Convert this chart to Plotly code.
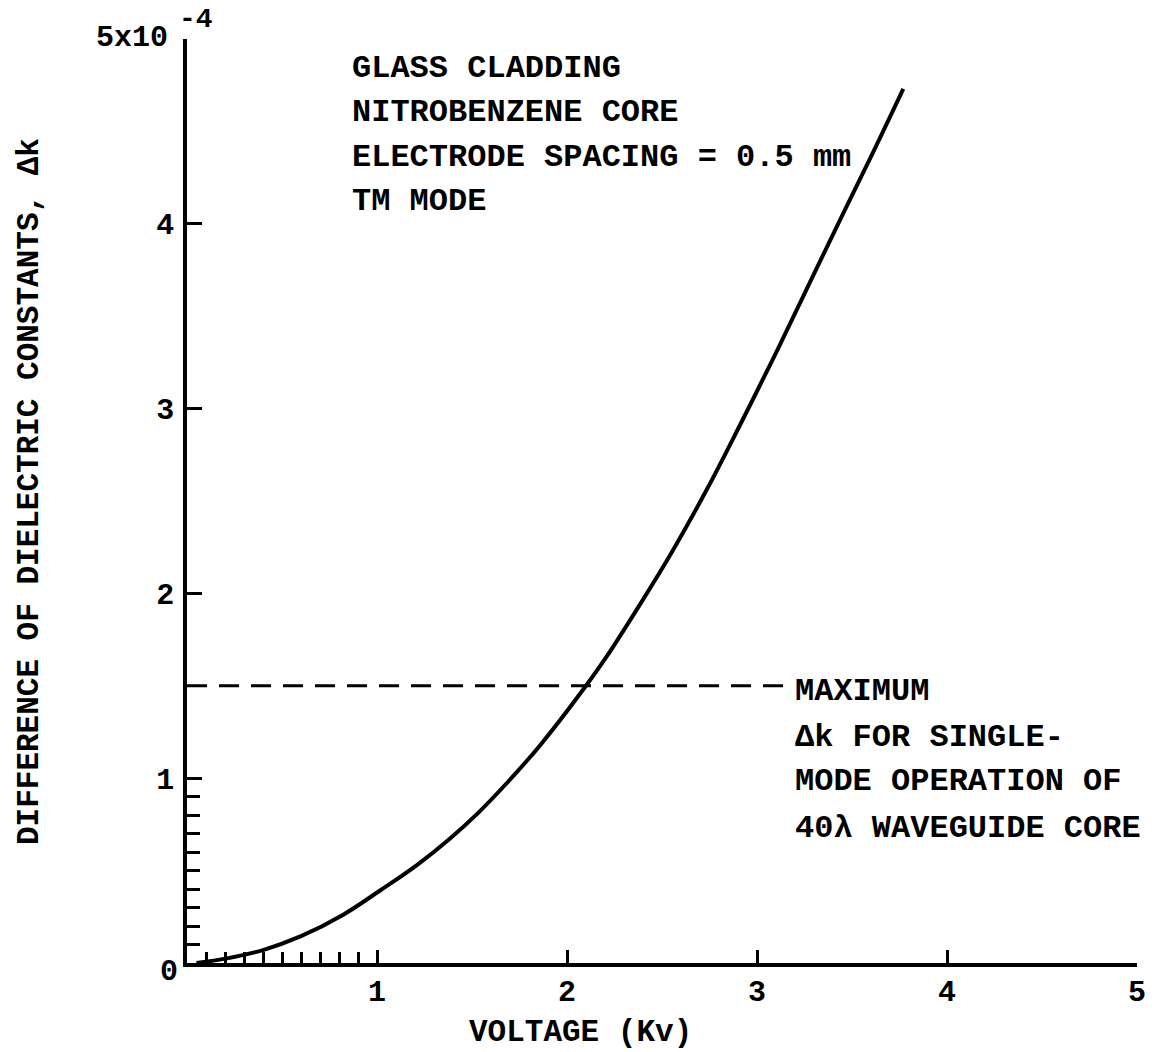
import plotly.graph_objects as go

# ---- data (voltage in kV, delta-k in units of 1e-4) ----
voltage_kv = [0.05, 0.21, 0.40, 0.60, 0.82, 1.02, 1.21, 1.38, 1.53, 1.68, 1.86, 2.10,
              2.21, 2.39, 2.55, 2.74, 2.91, 3.08, 3.24, 3.38, 3.56, 3.65, 3.77]
delta_k = [0.0, 0.025, 0.07, 0.145, 0.26, 0.395, 0.53, 0.67, 0.81, 0.97, 1.18, 1.50,
           1.66, 1.95, 2.22, 2.57, 2.91, 3.26, 3.60, 3.90, 4.28, 4.47, 4.73]

max_dk_level = 1.5          # maximum delta-k for single-mode operation
max_dk_x = [0.0, 3.2]       # extent of the dashed reference line

x_tickvals = [1, 2, 3, 4, 5]
x_ticktext = ["1", "2", "3", "4", "5"]
x_minor = [0.1, 0.2, 0.3, 0.4, 0.5, 0.6, 0.7, 0.8, 0.9]
y_tickvals = [1, 2, 3, 4, 5]
y_ticktext = ["1", "2", "3", "4", ""]
y_minor = [0.1, 0.2, 0.3, 0.4, 0.5, 0.6, 0.7, 0.8, 0.9]

info_lines = ["GLASS CLADDING", "NITROBENZENE CORE",
              "ELECTRODE SPACING = 0.5 mm", "TM MODE"]
max_lines = ["MAXIMUM", "\u0394k FOR SINGLE-", "MODE OPERATION OF",
             "40\u03bb WAVEGUIDE CORE"]

FONT = "Liberation Mono"
fnt = dict(family=FONT, size=30, color="black", weight="bold")
fnt_big = dict(family=FONT, size=32, color="black", weight="bold")
fnt_title = dict(family=FONT, size=31, color="black", weight="bold")

fig = go.Figure()
fig.add_trace(go.Scatter(x=max_dk_x, y=[max_dk_level] * len(max_dk_x), mode="lines",
                         line=dict(color="black", width=3, dash="20px,12px"),
                         hoverinfo="skip"))
fig.add_trace(go.Scatter(x=voltage_kv, y=delta_k, mode="lines",
                         line=dict(color="black", width=4, shape="spline", smoothing=1.0),
                         cliponaxis=False))

axis_common = dict(showgrid=False, zeroline=False, showline=True, linecolor="black",
                   linewidth=3.5, ticks="inside", tickcolor="black", tickwidth=3,
                   tickfont=fnt, range=[0, 5], fixedrange=True)

fig.update_xaxes(**axis_common, tickvals=x_tickvals, ticktext=x_ticktext, ticklen=13,
                 ticklabelstandoff=-2,
                 minor=dict(tickmode="array", tickvals=x_minor, ticks="inside",
                            ticklen=11, tickwidth=2.5, tickcolor="black"))
fig.update_yaxes(**axis_common, tickvals=y_tickvals, ticktext=y_ticktext, ticklen=15,
                 ticklabelstandoff=3,
                 minor=dict(tickmode="array", tickvals=y_minor, ticks="inside",
                            ticklen=13, tickwidth=2.5, tickcolor="black"))

annotations = []
# corner zero label
annotations.append(dict(x=-0.0074, y=-0.0097, xref="paper", yref="paper", text="0",
                        showarrow=False, font=fnt, xanchor="right", yanchor="middle"))
# top y label 5x10^-4
annotations.append(dict(x=-0.018, y=1.001, xref="paper", yref="paper", text="5x10",
                        showarrow=False, font=fnt, xanchor="right", yanchor="middle"))
annotations.append(dict(x=-0.0105, y=1.021, xref="paper", yref="paper", text="-4",
                        showarrow=False,
                        font=dict(family=FONT, size=28, color="black", weight="bold"),
                        xanchor="left", yanchor="middle"))
# info block
info_y = [4.84, 4.60, 4.36, 4.12]
for t, yy in zip(info_lines, info_y):
    annotations.append(dict(x=0.86, y=yy, xref="x", yref="y", text=t, showarrow=False,
                            font=fnt_big, xanchor="left", yanchor="middle"))
# maximum block
max_y = [1.47, 1.22, 0.98, 0.73]
for t, yy in zip(max_lines, max_y):
    annotations.append(dict(x=3.19, y=yy, xref="x", yref="y", text=t, showarrow=False,
                            font=fnt_big, xanchor="left", yanchor="middle"))
# axis titles
annotations.append(dict(x=0.4147, y=-0.0747, xref="paper", yref="paper",
                        text="VOLTAGE (Kv)", showarrow=False, font=fnt_title,
                        xanchor="center", yanchor="middle"))
annotations.append(dict(x=-0.165, y=0.51, xref="paper", yref="paper",
                        text="DIFFERENCE OF DIELECTRIC CONSTANTS, \u0394k",
                        showarrow=False, font=fnt_title, textangle=-90,
                        xanchor="center", yanchor="middle"))

fig.update_layout(width=1160, height=1052, margin=dict(l=187, r=23, t=39, b=89),
                  plot_bgcolor="white", paper_bgcolor="white", showlegend=False,
                  annotations=annotations)

fig.write_html("out.html")
